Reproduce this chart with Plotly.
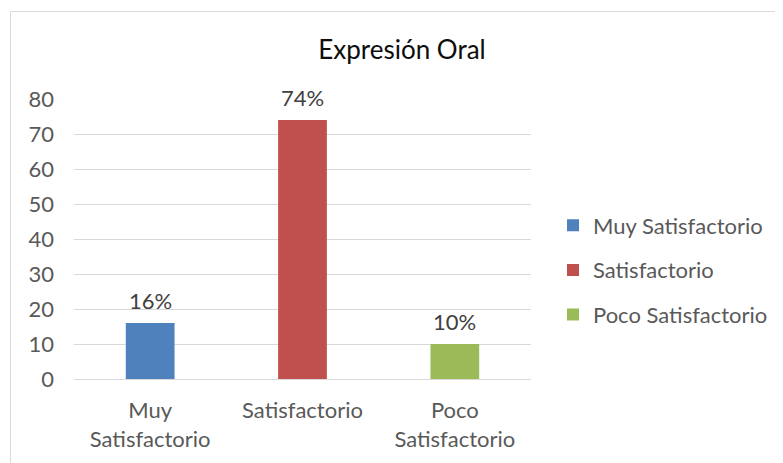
import plotly.graph_objects as go

categories = ["Muy Satisfactorio", "Satisfactorio", "Poco Satisfactorio"]
tick_labels = ["Muy<br>Satisfactorio", "Satisfactorio", "Poco<br>Satisfactorio"]
values = [16, 74, 10]
value_labels = ["16%", "74%", "10%"]
colors = ["#4F81BD", "#C0504D", "#9BBB59"]
y_ticks = [0, 10, 20, 30, 40, 50, 60, 70, 80]

FONT = "Lato"
OFF = 8  # page body margin
W, H = 783 - OFF, 463 - OFF
L, T = 74 - OFF, 99 - OFF
plot_w, plot_h = 457, 280
R = W - L - plot_w
B = H - T - plot_h

fig = go.Figure()
for i, (cat, val, col) in enumerate(zip(categories, values, colors)):
    fig.add_trace(go.Bar(
        x=[i], y=[val], name=cat, marker=dict(color=col, line=dict(width=0)),
        width=0.32, legendgroup=cat, hoverinfo="skip",
    ))
    fig.add_annotation(
        x=i, y=val, text=value_labels[i], showarrow=False,
        yanchor="middle", yshift=23,
        font=dict(family=FONT, size=22, color="#404040"),
    )

# chart border
fig.add_shape(
    type="rect", xref="paper", yref="paper",
    x0=(10.5 - OFF - L) / plot_w, x1=2.0,
    y0=-1.0, y1=(T + plot_h - (11.5 - OFF)) / plot_h,
    line=dict(color="#D9D9D9", width=1), fillcolor="rgba(0,0,0,0)", layer="below",
)

fig.update_layout(
    width=W, height=H,
    margin=dict(l=L, r=R, t=T, b=B, autoexpand=False),
    paper_bgcolor="white", plot_bgcolor="white",
    barmode="overlay",
    title=dict(
        text="Expresión Oral", x=(402 - OFF) / W, xanchor="center",
        y=1 - (50 - OFF) / H, yanchor="middle", yref="container",
        font=dict(family=FONT, size=26, color="#0D0D0D"),
    ),
    font=dict(family=FONT, size=22, color="#595959"),
    legend=dict(
        x=(553 - OFF - L) / plot_w, xanchor="left",
        y=(T + plot_h - (270 - OFF)) / plot_h, yanchor="middle",
        traceorder="grouped", tracegroupgap=13,
        font=dict(family=FONT, size=22, color="#595959"),
        bgcolor="rgba(0,0,0,0)",
    ),
    xaxis=dict(
        tickmode="array", tickvals=list(range(len(categories))), ticktext=tick_labels,
        range=[-0.5, len(categories) - 0.5], showgrid=False, zeroline=False,
        showline=False, ticks="", ticklabelstandoff=16, automargin=False,
        tickfont=dict(family=FONT, size=22, color="#595959"),
    ),
    yaxis=dict(
        range=[0, 80], tickvals=y_ticks, showgrid=True, gridcolor="#D9D9D9",
        gridwidth=1, zeroline=True, zerolinecolor="#D9D9D9", zerolinewidth=1,
        showline=False, ticks="", ticklabelstandoff=19, automargin=False,
        tickfont=dict(family=FONT, size=22, color="#595959"),
    ),
)

fig.write_html("out.html")
